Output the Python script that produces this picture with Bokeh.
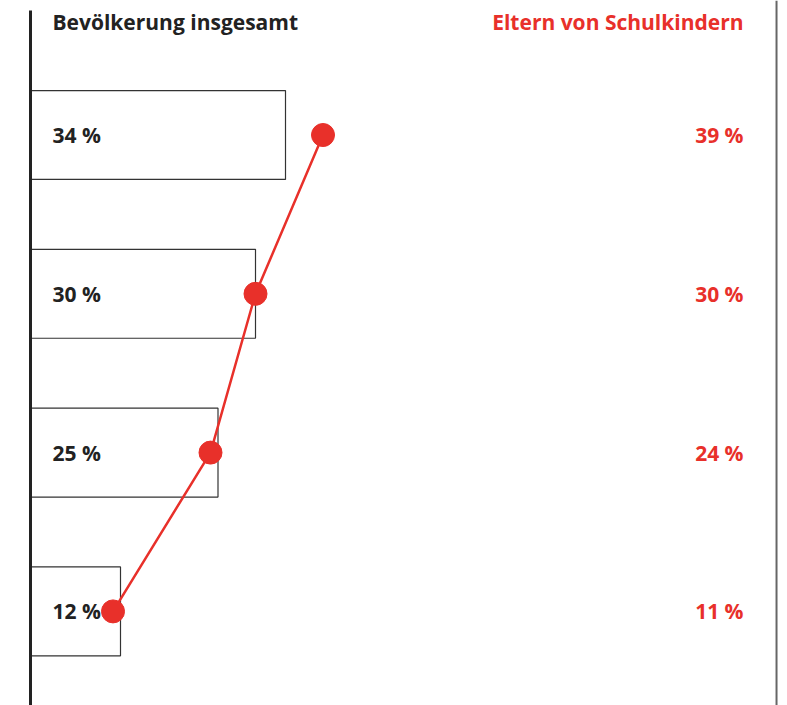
from bokeh.plotting import figure
from bokeh.models import Range1d, Span, ColumnDataSource
from bokeh.core.properties import value
from bokeh.embed import file_html
from bokeh.resources import INLINE

categories = ["Gruppe 1", "Gruppe 2", "Gruppe 3", "Gruppe 4"]
bevoelkerung = [34, 30, 25, 12]
eltern = [39, 30, 24, 11]
header_left = "Bevölkerung insgesamt"
header_right = "Eltern von Schulkindern"

RED = "#e8302a"
DARK = "#222222"

W, H = 787, 705
px_per_unit = 7.5
x0_px = 30
x_start = -x0_px / px_per_unit
x_end = (W - x0_px) / px_per_unit

row_px = 158.8
row0_px = 134.5
y_top = -row0_px / row_px
y_bottom = (H - row0_px) / row_px

rows = list(range(len(categories)))

p = figure(width=W, height=H, output_backend="svg", toolbar_location=None,
           x_range=Range1d(x_start, x_end), y_range=Range1d(y_bottom, y_top),
           min_border=0, min_border_left=0, min_border_right=0,
           min_border_top=0, min_border_bottom=0)
p.axis.visible = False
p.grid.visible = False
p.outline_line_color = None
p.background_fill_color = "white"

src = ColumnDataSource(dict(
    y=rows,
    bev=bevoelkerung,
    elt=eltern,
    bev_lbl=[f"{v} %" for v in bevoelkerung],
    elt_lbl=[f"{v} %" for v in eltern],
))

# bars
p.hbar(y="y", left=0, right="bev", height=0.56, source=src,
       fill_color="white", line_color="#333333", line_width=1.2)

# left axis line
p.segment(x0=0, y0=y_top + 0.063, x1=0, y1=y_bottom, line_color=DARK, line_width=3)
# right border
p.add_layout(Span(location=99.47, dimension="height", line_color="#666666", line_width=2))

# line + points
p.line(x="elt", y="y", source=src, line_color=RED, line_width=2.5)
p.scatter(x="elt", y="y", source=src, size=23, fill_color=RED, line_color=RED)

FS = "21px"
p.text(x=2.93, y="y", text="bev_lbl", source=src, text_font=value("Open Sans"),
       text_font_style="bold", text_font_size=FS, text_color=DARK,
       text_align="left", text_baseline="middle")
p.text(x=95.07, y="y", text="elt_lbl", source=src, text_font=value("Open Sans"),
       text_font_style="bold", text_font_size=FS, text_color=RED,
       text_align="right", text_baseline="middle")

p.text(x=[2.93], y=[y_top + 0.135], text=[header_left], text_font=value("Open Sans"),
       text_font_style="bold", text_font_size=FS, text_color=DARK,
       text_align="left", text_baseline="middle")
p.text(x=[95.07], y=[y_top + 0.135], text=[header_right], text_font=value("Open Sans"),
       text_font_style="bold", text_font_size=FS, text_color=RED,
       text_align="right", text_baseline="middle")

open("out.html", "w").write(file_html(p, INLINE))
